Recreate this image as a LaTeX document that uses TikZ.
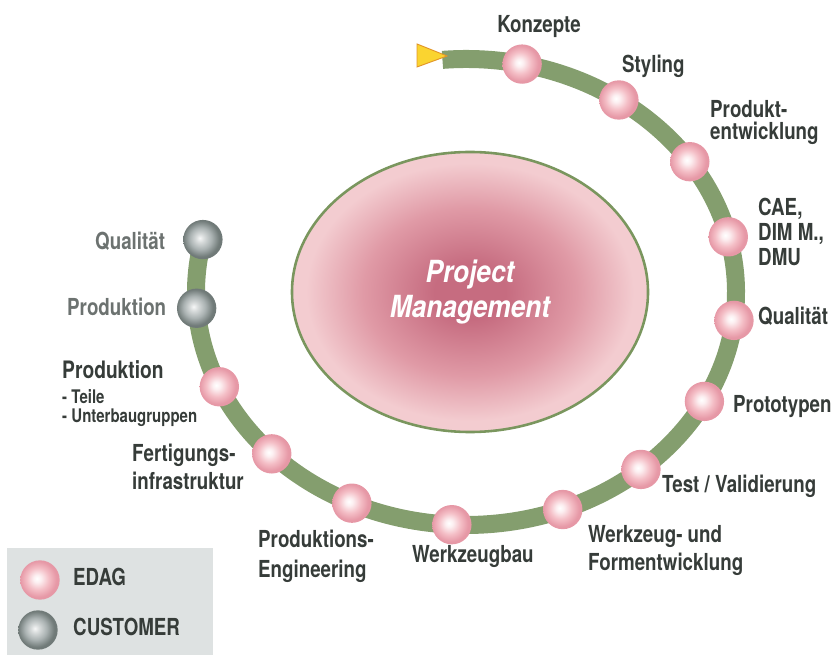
\documentclass[tikz,border=0pt]{standalone}
\usepackage{fontspec}
\usetikzlibrary{shapes.geometric}
\newfontfamily\edag{TeX Gyre Heros}[FakeStretch=0.8]
\newfontfamily\pmfont{TeX Gyre Heros}[FakeStretch=0.86]

\definecolor{trackgreen}{RGB}{132,158,110}
\definecolor{rimgreen}{RGB}{122,150,94}
\definecolor{lbltext}{RGB}{54,60,57}
\definecolor{custtext}{RGB}{108,114,112}
\definecolor{pinkmid}{RGB}{244,190,198}
\definecolor{pinkrim}{RGB}{230,152,166}
\definecolor{greymid}{RGB}{170,178,178}
\definecolor{greyrim}{RGB}{112,122,120}
\definecolor{pmcore}{RGB}{198,108,128}
\definecolor{pmmid}{RGB}{224,154,166}
\definecolor{pmedge}{RGB}{243,204,208}
\definecolor{legendbg}{RGB}{222,226,226}
\definecolor{startyellow}{RGB}{250,212,48}
\definecolor{startorange}{RGB}{226,150,40}

\pgfdeclareradialshading{edagball}{\pgfpoint{-4bp}{2bp}}{color(0bp)=(white); color(5bp)=(white!75!pinkmid); color(14bp)=(pinkmid); color(23bp)=(pinkrim); color(50bp)=(pinkrim)}
\pgfdeclareradialshading{custball}{\pgfpoint{-4bp}{2bp}}{color(0bp)=(white!90!greymid); color(5bp)=(white!55!greymid); color(14bp)=(greymid); color(23bp)=(greyrim); color(50bp)=(greyrim)}
\pgfdeclareradialshading{pmglow}{\pgfpoint{0bp}{0bp}}{color(0bp)=(pmcore); color(5bp)=(pmcore); color(15bp)=(pmmid); color(23bp)=(pmedge); color(50bp)=(pmedge)}

\newcommand{\lf}[2]{\fontsize{#1}{#2}\selectfont}

\begin{document}
\begin{tikzpicture}[x=0.03cm,y=0.03cm,
    ball/.style={circle,inner sep=0pt,minimum size=1.18cm,shading=edagball},
    custball/.style={ball,shading=custball},
    lbl/.style={anchor=north west,inner sep=0pt,align=left,text=lbltext,
      font=\edag\bfseries\lf{20}{19}},
    custlbl/.style={lbl,text=custtext},
    track/.style={draw=trackgreen,line width=0.54cm}]
  \useasboundingbox (0,0) rectangle (836,-655);

  \node[ellipse,minimum width=10.68cm,minimum height=8.4cm,shading=pmglow,
    draw=rimgreen,line width=2.2pt,text=white,align=center,
    font=\pmfont\bfseries\itshape\lf{26}{30}] (pm) at (470,-292) {Project\\Management};

  \coordinate (trackstart) at ([shift={(466,-292)}]95:270 and 233);
  \draw[track] (trackstart) arc[start angle=95,end angle=-193,x radius=270,y radius=233];
  \draw[fill=startyellow,draw=startorange,line width=0.8pt]
    (417,-44) -- (447,-56) -- (417,-67) -- cycle;

  \node[ball] (konzepte) at ([shift={(466,-292)}]78:270 and 233) {};
  \node[ball] (styling) at ([shift={(466,-292)}]55.5:270 and 233) {};
  \node[ball] (produkt) at ([shift={(466,-292)}]34:270 and 233) {};
  \node[ball] (cae) at ([shift={(466,-292)}]13.7:270 and 233) {};
  \node[ball] (qual) at ([shift={(466,-292)}]-7:270 and 233) {};
  \node[ball] (proto) at ([shift={(466,-292)}]-28:270 and 233) {};
  \node[ball] (test) at ([shift={(466,-292)}]-49.6:270 and 233) {};
  \node[ball] (wzform) at ([shift={(466,-292)}]-69:270 and 233) {};
  \node[ball] (wzbau) at ([shift={(466,-292)}]-93:270 and 233) {};
  \node[ball] (prodeng) at ([shift={(466,-292)}]-115:270 and 233) {};
  \node[ball] (fert) at ([shift={(466,-292)}]-136:270 and 233) {};
  \node[ball] (prodteile) at ([shift={(466,-292)}]-156:270 and 233) {};
  \node[custball] (prodkunde) at ([shift={(466,-292)}]-176:270 and 233) {};
  \node[custball] (qualkunde) at ([shift={(466,-292)}]-193:270 and 233) {};

  \node[lbl,anchor=north] (lkonzepte) at (539,-15) {Konzepte};
  \node[lbl] (lstyling) at (622,-55) {Styling};
  \node[lbl] (lprodukt) at (710,-100) {Produkt-\\entwicklung};
  \node[lbl,font=\edag\bfseries\lf{20}{21.3}] (lcae) at (758,-198) {CAE,\\DIM M.,\\DMU};
  \node[lbl] (lqual) at (758,-307) {Qualität};
  \node[lbl] (lproto) at (733,-395) {Prototypen};
  \node[lbl] (ltest) at (662,-475) {Test / Validierung};
  \node[lbl,font=\edag\bfseries\lf{20}{24}] (lwzform) at (588,-525) {Werkzeug- und\\Formentwicklung};
  \node[lbl] (lwzbau) at (412,-545) {Werkzeugbau};
  \node[lbl,font=\edag\bfseries\lf{20}{25.6}] (lprodeng) at (258,-530) {Produktions-\\Engineering};
  \node[lbl,font=\edag\bfseries\lf{20}{24}] (lfert) at (132,-444) {Fertigungs-\\infrastruktur};
  \node[lbl,font=\edag\bfseries\lf{16}{21.3}] (lprodteile) at (62,-360)
    {{\lf{20.5}{21.3}Produktion}\\- Teile\\[-4.3pt]- Unterbaugruppen};
  \node[custlbl] (lprodkunde) at (67,-298) {Produktion};
  \node[custlbl] (lqualkunde) at (95,-232) {Qualität};

  \fill[legendbg] (7,-548) rectangle (213,-655);
  \node[ball] (legedag) at (40,-580) {};
  \node[custball] (legcust) at (38,-630) {};
  \node[lbl] (ledag) at (73,-568) {EDAG};
  \node[lbl] (lcust) at (73,-618) {CUSTOMER};
\end{tikzpicture}
\end{document}
